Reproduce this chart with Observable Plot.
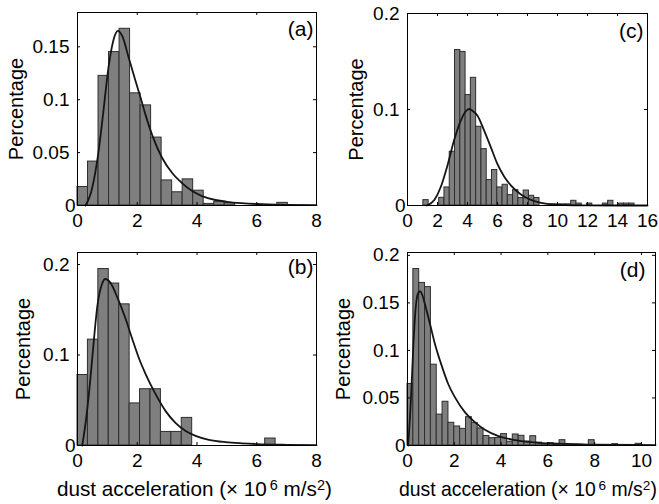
<!DOCTYPE html>
<html>
<head>
<meta charset="utf-8">
<script src="https://cdn.jsdelivr.net/npm/d3@7"></script>
<script src="https://cdn.jsdelivr.net/npm/@observablehq/plot@0.6"></script>
<style>
  body { margin: 0; background: #fff; }
  #fig { position: relative; width: 659px; height: 504px; overflow: hidden; background: #fff;
         font-family: "Liberation Sans", Arial, Helvetica, sans-serif; color: #000; }
  .panel { position: absolute; }
  .xlabel { position: absolute; white-space: nowrap; line-height: 19px; }
  .xlabel sup { font-size: 0.7em; line-height: 0; vertical-align: 0.42em; }
</style>
</head>
<body>
<div id="fig"></div>
<script>
// ---------------- data ----------------
// histogram bar heights (fraction of events per bin), bins start at 0
const binWidthA = 0.352;
const heightsA = [0.0175, 0.0415, 0.1225, 0.145, 0.167, 0.106, 0.0946, 0.0642, 0.0237, 0.0125,
                  0.0247, 0.014, 0.0015, 0.0035, 0.0022, 0, 0, 0, 0, 0.0025];

const binWidthB = 0.349;
const heightsB = [0.0779, 0.117, 0.195, 0.179, 0.156, 0.0465, 0.0622, 0.0622, 0.015, 0.015,
                  0.0305, 0, 0, 0, 0, 0, 0, 0, 0.0077];

const binWidthC = 0.352;
const heightsC = [0, 0, 0, 0.0056, 0, 0, 0.008, 0.0188, 0.056, 0.162,
                  0.16, 0.115, 0.133, 0.082, 0.0587, 0.0265, 0.037, 0.0188, 0.0216, 0.0108,
                  0.016, 0.0078, 0.0156, 0.0101, 0.0078, 0, 0, 0.0012, 0.0012, 0.0012,
                  0.0012, 0.0049, 0.002, 0, 0.002, 0, 0, 0.002, 0.0049, 0,
                  0.002, 0.002, 0.002];

const binWidthD = 0.25;
const heightsD = [0.0647, 0.1856, 0.171, 0.1666, 0.085, 0.0325, 0.046, 0.0239, 0.020, 0.0175,
                  0.0298, 0.0237, 0.018, 0.0100, 0.0077, 0.008, 0.012, 0.004, 0.0116, 0.0102,
                  0.0042, 0.0098, 0.003, 0.0014, 0.0025, 0.001, 0.0056, 0.001, 0.0008, 0.0008,
                  0, 0.0056, 0, 0, 0, 0.0014, 0, 0, 0, 0.0018];

// fitted distribution curves
const curveAx = [0.27, 0.45, 0.6, 0.69, 0.83, 1.05, 1.22, 1.35, 1.5, 1.72, 1.94, 2.11, 2.28, 2.5, 2.83, 3.17, 3.5, 3.84, 4.17, 4.62, 5.0, 5.5, 6.0, 7.0, 8.0];
const curveAy = [0, 0.012, 0.032, 0.048, 0.08, 0.133, 0.158, 0.165, 0.16, 0.139, 0.118, 0.102, 0.0854, 0.0665, 0.0451, 0.0307, 0.0212, 0.0136, 0.0089, 0.0052, 0.0035, 0.0022, 0.0014, 0.0006, 0.0003];

const curveBx = [0.16, 0.32, 0.435, 0.547, 0.66, 0.826, 0.93, 1.1, 1.33, 1.61, 1.83, 2.05, 2.28, 2.61, 2.95, 3.28, 3.62, 3.95, 4.4, 4.96, 5.5, 6.0, 7.0, 8.0];
const curveBy = [0, 0.038, 0.075, 0.116, 0.153, 0.179, 0.184, 0.180, 0.164, 0.140, 0.118, 0.097, 0.079, 0.057, 0.038, 0.025, 0.016, 0.0107, 0.0063, 0.0037, 0.0024, 0.0016, 0.0008, 0.0004];

const curveCx = [1.3, 1.8, 2.21, 2.66, 3.1, 3.55, 3.99, 4.12, 4.35, 4.66, 5.11, 5.56, 6.0, 6.45, 6.89, 7.56, 8.23, 8.9, 9.57, 10.5, 12, 14, 16];
const curveCy = [0, 0.006, 0.019, 0.0415, 0.0676, 0.0885, 0.0998, 0.1005, 0.0985, 0.0937, 0.078, 0.0606, 0.043, 0.03, 0.021, 0.0115, 0.0058, 0.0028, 0.0012, 0.0004, 0.0001, 0, 0];

const curveDx = [0.03, 0.15, 0.25, 0.35, 0.47, 0.55, 0.65, 0.74, 0.96, 1.17, 1.46, 1.74, 2.03, 2.46, 2.89, 3.31, 3.89, 4.6, 5.6, 6.74, 8.0, 10.6];
const curveDy = [0, 0.05, 0.105, 0.145, 0.161, 0.162, 0.157, 0.149, 0.128, 0.107, 0.084, 0.0647, 0.0506, 0.0348, 0.0243, 0.0165, 0.0098, 0.0056, 0.0028, 0.0018, 0.001, 0.0005];

// axes
const xTicksAB = [0, 2, 4, 6, 8];
const xTicksC = [0, 2, 4, 6, 8, 10, 12, 14, 16];
const xTicksD = [0, 2, 4, 6, 8, 10];
const yTicksA = [0, 0.05, 0.1, 0.15];
const yTicksB = [0, 0.1, 0.2];
const yTicksC = [0, 0.1, 0.2];
const yTicksD = [0, 0.05, 0.1, 0.15, 0.2];
const panelTags = ["(a)", "(b)", "(c)", "(d)"];
const yTitle = "Percentage";
const xTitleMain = "dust acceleration (\u00d7 10";
const xTitleExp = "6";
const xTitleUnit = " m/s";
const xTitleUnitExp = "2";

// ---------------- drawing ----------------
const FONT = "'Liberation Sans', Arial, Helvetica, sans-serif";

function makePanel(c) {
  const bars = c.heights.map((v, i) => ({x1: i * c.binWidth, x2: (i + 1) * c.binWidth, v})).filter(d => d.v > 0);
  const curve = c.cx.map((x, i) => ({x, y: c.cy[i]}));
  const pw = c.W - c.mL - c.mR, ph = c.H - c.mT - c.mB;
  const nonZeroY = c.yTicks.filter(d => d !== 0);
  return Plot.plot({
    width: c.W, height: c.H,
    marginLeft: c.mL, marginRight: c.mR, marginTop: c.mT, marginBottom: c.mB,
    style: {fontFamily: FONT, fontSize: "19px", color: "#000", background: "transparent", overflow: "visible"},
    x: {domain: c.xDomain},
    y: {domain: c.yDomain},
    marks: [
      Plot.rect(bars, {x1: "x1", x2: "x2", y1: 0, y2: "v", fill: "#7f7f7f", stroke: "#2e2e2e", strokeWidth: 1}),
      Plot.line(curve, {x: "x", y: "y", stroke: "#151515", strokeWidth: 1.8, curve: "monotone-x"}),
      Plot.frame({stroke: "#000", strokeWidth: 1}),
      // inward ticks on all four sides
      Plot.tickX(c.xTicks, {x: d => d, insetTop: ph - 3, stroke: "#000"}),
      Plot.tickX(c.xTicks, {x: d => d, insetBottom: ph - 3, stroke: "#000"}),
      Plot.tickY(c.yTicks, {y: d => d, insetRight: pw - 3, stroke: "#000"}),
      Plot.tickY(c.yTicks, {y: d => d, insetLeft: pw - 3, stroke: "#000"}),
      Plot.axisX(c.xTicks, {anchor: "bottom", tickSize: 0, tickPadding: 8, label: null, fontSize: 19, tickFormat: d => String(d)}),
      Plot.axisY(nonZeroY, {anchor: "left", tickSize: 0, tickPadding: 8, label: null, fontSize: 19, tickFormat: d => String(d)}),
      Plot.axisY([0], {anchor: "left", tickSize: 0, tickPadding: 2, label: null, fontSize: 19, tickFormat: d => String(d)}),
      Plot.text([c.tag], {frameAnchor: "top-right", textAnchor: "end", lineAnchor: "middle", dx: c.tagDx, dy: c.tagDy, fontSize: 21}),
      Plot.text([yTitle], {frameAnchor: "left", rotate: -90, textAnchor: "middle", lineAnchor: "middle", dx: c.yTitleX - c.mL, fontSize: 20})
    ]
  });
}

const fig = document.getElementById("fig");
const panels = [
  {left: 0, top: 0, W: 330, H: 240, mL: 77, mR: 14, mT: 12, mB: 35,
   heights: heightsA, binWidth: binWidthA, cx: curveAx, cy: curveAy,
   xDomain: [0, 8], yDomain: [0, 0.1824], xTicks: xTicksAB, yTicks: yTicksA,
   tag: panelTags[0], tagDx: -3, tagDy: 16.5, yTitleX: 16},
  {left: 330, top: 0, W: 329, H: 240, mL: 77, mR: 12, mT: 13, mB: 35,
   heights: heightsC, binWidth: binWidthC, cx: curveCx, cy: curveCy,
   xDomain: [0, 16], yDomain: [0, 0.2], xTicks: xTicksC, yTicks: yTicksC,
   tag: panelTags[2], tagDx: -4, tagDy: 18, yTitleX: 26},
  {left: 0, top: 240, W: 330, H: 264, mL: 77, mR: 14, mT: 12, mB: 59,
   heights: heightsB, binWidth: binWidthB, cx: curveBx, cy: curveBy,
   xDomain: [0, 8], yDomain: [0, 0.2133], xTicks: xTicksAB, yTicks: yTicksB,
   tag: panelTags[1], tagDx: -3, tagDy: 15, yTitleX: 23},
  {left: 330, top: 240, W: 329, H: 264, mL: 77, mR: 4, mT: 12, mB: 59,
   heights: heightsD, binWidth: binWidthD, cx: curveDx, cy: curveDy,
   xDomain: [0, 10.6], yDomain: [0, 0.203], xTicks: xTicksD, yTicks: yTicksD,
   tag: panelTags[3], tagDx: -10, tagDy: 18, yTitleX: 13}
];

for (const p of panels) {
  const wrap = document.createElement("div");
  wrap.className = "panel";
  wrap.style.left = p.left + "px";
  wrap.style.top = p.top + "px";
  wrap.appendChild(makePanel(p));
  fig.appendChild(wrap);
}

// x axis titles under the bottom panels, sized to span the same width as in the reference
function addXTitle(left, baseline, spanWidth) {
  const d = document.createElement("div");
  d.className = "xlabel";
  d.style.left = left + "px";
  d.style.fontSize = "19px";
  d.append(xTitleMain);
  const s1 = document.createElement("sup");
  s1.style.marginLeft = "0.2em";
  s1.textContent = xTitleExp; d.append(s1);
  d.append(xTitleUnit);
  const s2 = document.createElement("sup"); s2.textContent = xTitleUnitExp; d.append(s2);
  d.append(")");
  fig.appendChild(d);
  const w = d.getBoundingClientRect().width;
  const fs = 19 * spanWidth / w;
  d.style.fontSize = fs + "px";
  d.style.top = (baseline - (9.5 + 0.3465 * fs)) + "px";
}
addXTitle(57, 496, 275);
addXTitle(399, 496, 258);
</script>
</body>
</html>
